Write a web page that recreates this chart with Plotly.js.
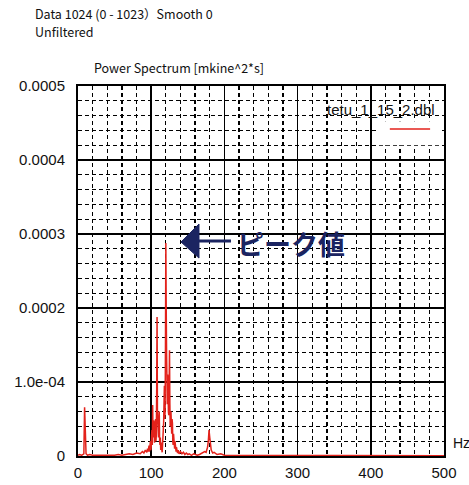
<!DOCTYPE html>
<html>
<head>
<meta charset="utf-8">
<script src="https://cdn.plot.ly/plotly-3.0.1.min.js"></script>
<style>html,body{margin:0;padding:0;background:#fff;}#chart{width:469px;height:485px;}</style>
</head>
<body>
<div id="chart"></div>
<script>
const seriesName = "tetu_1_15_2.dbl";
const freqHz = [0,2,5,8,9,10,11,13,16,20,25,30,35,40,45,50,55,60,65,70,75,80,85,88,90,92,94,95,96,
  97,97.5,98,98.5,99,99.5,100,100.5,101,101.5,102,102.5,103,103.5,104,104.5,105,105.5,106,106.5,107,107.5,
  108,108.5,109,109.5,110,110.5,111,111.5,112,112.5,113,113.5,114,114.5,115,115.5,116,116.5,117,117.5,
  118,118.5,119,119.5,120,120.5,121,121.5,122,122.5,123,123.5,124,124.5,125,125.5,126,126.5,127,127.5,
  128,128.5,129,129.5,130,130.5,131,131.5,132,132.5,133,133.5,134,134.5,135,
  136,137,138,140,142,144,146,148,150,152,155,158,160,163,166,170,173,175,177,178,179,180,181,182,184,186,190,195,200,210,220,240,260,300,350,400,450,500];
const power = [1e-6,2e-6,1e-6,3e-6,66e-6,20e-6,3e-6,1e-6,2e-6,1e-6,1e-6,0.5e-6,1e-6,0.5e-6,1e-6,1e-6,2e-6,1e-6,2e-6,3e-6,2e-6,4e-6,3e-6,6e-6,4e-6,8e-6,5e-6,10e-6,6e-6,
  14e-6,6e-6,9e-6,18e-6,20e-6,8e-6,12e-6,28e-6,35e-6,15e-6,69e-6,25e-6,30e-6,48e-6,45e-6,18e-6,22e-6,38e-6,50e-6,20e-6,28e-6,90e-6,
  188e-6,60e-6,40e-6,30e-6,25e-6,45e-6,60e-6,20e-6,15e-6,25e-6,8e-6,18e-6,12e-6,6e-6,5e-6,15e-6,20e-6,35e-6,45e-6,70e-6,
  95e-6,50e-6,60e-6,150e-6,288e-6,200e-6,140e-6,80e-6,70e-6,110e-6,100e-6,60e-6,55e-6,90e-6,143e-6,70e-6,40e-6,55e-6,60e-6,35e-6,
  30e-6,50e-6,45e-6,20e-6,15e-6,30e-6,25e-6,12e-6,10e-6,20e-6,15e-6,8e-6,6e-6,12e-6,10e-6,
  4e-6,8e-6,3e-6,6e-6,3e-6,5e-6,2e-6,4e-6,2e-6,3e-6,1e-6,3e-6,2e-6,1e-6,2e-6,4e-6,6e-6,5e-6,12e-6,20e-6,35e-6,25e-6,12e-6,8e-6,4e-6,5e-6,2e-6,3e-6,1e-6,1e-6,0.5e-6,0.5e-6,0.3e-6,0.3e-6,0.2e-6,0.2e-6,0.2e-6,0.2e-6];
const xTicks = [0,100,200,300,400,500];
const yTickVals = [0,0.0001,0.0002,0.0003,0.0004,0.0005];
const yTickText = ["0","1.0e-04","0.0002","0.0003","0.0004","0.0005"];

const navy = "#1b2461";
const red = "#e3221b";
const txtFont = {family: "'Noto Sans CJK JP', sans-serif", size: 12.5, color: "#111"};

const trace = {
  x: freqHz, y: power, type: "scatter", mode: "lines", name: seriesName,
  line: {color: red, width: 1.5}, showlegend: false
};

const axisCommon = {
  showline: true, mirror: true, linecolor: "#000", linewidth: 2,
  showgrid: true, gridcolor: "#000", gridwidth: 1.5,
  zeroline: false, ticks: "", fixedrange: true,
  tickfont: {family: "'Liberation Sans', Arial, sans-serif", size: 15, color: "#111"}
};

const layout = {
  width: 469, height: 485,
  margin: {l: 78, r: 25, t: 86, b: 29},
  paper_bgcolor: "#fff", plot_bgcolor: "#fff",
  xaxis: Object.assign({}, axisCommon, {
    range: [0, 500], tickvals: xTicks, ticklabelstandoff: 2,
    minor: {dtick: 20, showgrid: true, gridcolor: "#000", gridwidth: 1.3, griddash: "4px,3px"}
  }),
  yaxis: Object.assign({}, axisCommon, {
    range: [0, 0.0005], tickvals: yTickVals, ticktext: yTickText, ticklabelstandoff: 8,
    minor: {dtick: 0.00002, showgrid: true, gridcolor: "#000", gridwidth: 1.3, griddash: "4px,3px"}
  }),
  annotations: [
    {text: "Data 1024 (0 - 1023）Smooth 0", xref: "paper", yref: "paper", x: -0.123, y: 1.197, xanchor: "left", yanchor: "middle", showarrow: false, font: txtFont},
    {text: "Unfiltered", xref: "paper", yref: "paper", x: -0.123, y: 1.148, xanchor: "left", yanchor: "middle", showarrow: false, font: txtFont},
    {text: "Power Spectrum [mkine^2*s]", xref: "paper", yref: "paper", x: 0.038, y: 1.049, xanchor: "left", yanchor: "middle", showarrow: false, font: txtFont},
    {text: "Hz", xref: "paper", yref: "paper", x: 1.02, y: 0.035, xanchor: "left", yanchor: "middle", showarrow: false, font: {family: "'Liberation Sans', Arial, sans-serif", size: 14, color: "#111"}},
    {text: seriesName, xref: "paper", yref: "paper", x: 0.98, y: 0.937, xanchor: "right", yanchor: "middle", showarrow: false, font: {family: "'Liberation Sans', Arial, sans-serif", size: 15, color: "#111"}},
    {text: "<b>ピーク値</b>", xref: "paper", yref: "paper", x: 0.428, y: 0.573, xanchor: "left", yanchor: "middle", showarrow: false, font: {family: "'Noto Sans CJK JP', sans-serif", size: 27, color: navy}}
  ],
  shapes: [
    {type: "rect", xref: "paper", yref: "paper", x0: 0.82, x1: 0.99, y0: 0.84, y1: 0.905, fillcolor: "#fff", line: {width: 0}, layer: "above"},
    {type: "line", xref: "paper", yref: "paper", x0: 0.852, x1: 0.962, y0: 0.884, y1: 0.884, line: {color: red, width: 1.5}},
    {type: "path", xref: "paper", yref: "paper", path: "M 0.2814 0.5784 L 0.3306 0.627 L 0.3306 0.535 Z", fillcolor: navy, line: {color: navy, width: 1}},
    {type: "line", xref: "paper", yref: "paper", x0: 0.33, x1: 0.418, y0: 0.581, y1: 0.581, line: {color: navy, width: 3}}
  ]
};

Plotly.newPlot("chart", [trace], layout, {displayModeBar: false, staticPlot: true});
</script>
</body>
</html>
